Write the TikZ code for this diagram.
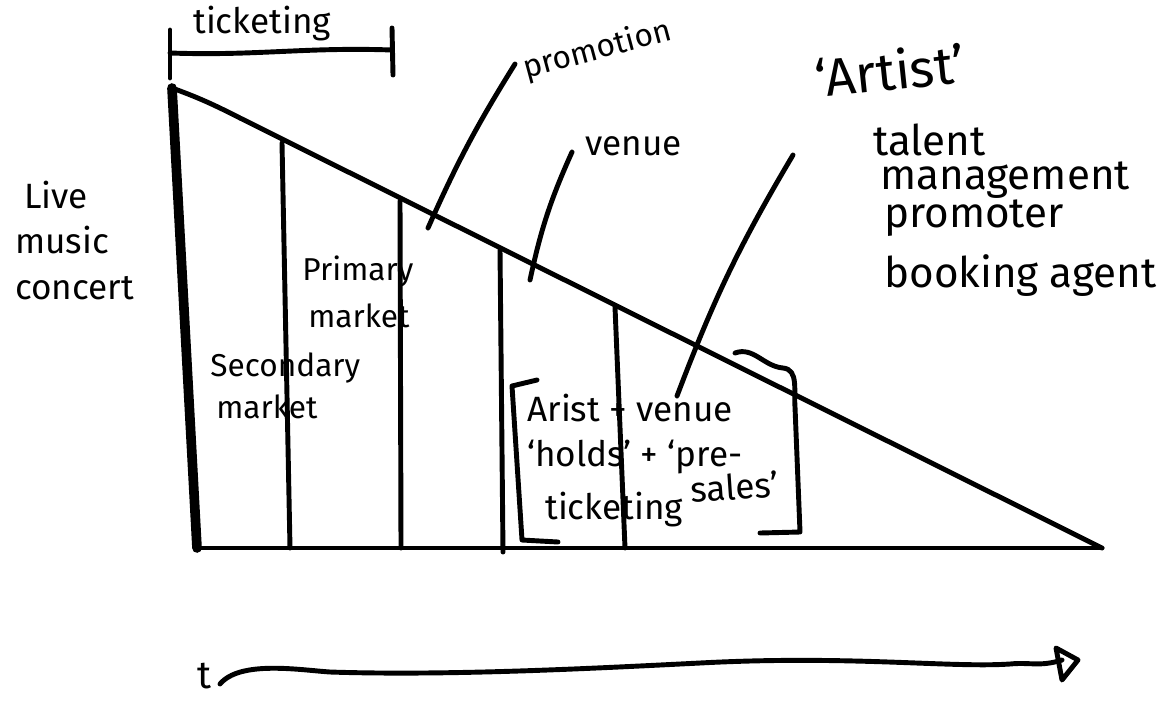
\documentclass[tikz,border=0pt]{standalone}
\usepackage{fontspec}
\setmainfont{Fira Sans}
\begin{document}
\begin{tikzpicture}[x=0.02cm,y=-0.02cm,
  ink/.style={line width=2.8pt, line cap=round, line join=round},
  heavy/.style={line width=5.5pt, line cap=round},
  lbl/.style={inner sep=0pt, anchor=west, font=\fontsize{20}{22}\selectfont},
  small/.style={lbl, font=\fontsize{18}{20}\selectfont},
  big/.style={lbl, font=\fontsize{24}{26}\selectfont},
  huge/.style={lbl, font=\fontsize{30}{32}\selectfont}]
\useasboundingbox (0,0) rectangle (1162,700);

% triangle: concert timeline shrinking to the show date
\coordinate (apex) at (172,88);
\coordinate (corner) at (197,548);
\coordinate (tip) at (1102,548);
\draw[heavy] (apex) -- (corner);
\draw[ink] (apex) to[out=-20,in=153] (240,118) -- (tip);
\draw[ink] (corner) -- (tip);

% stage dividers
\coordinate (d1t) at (282,143); \coordinate (d1b) at (290,548);
\coordinate (d2t) at (400,201); \coordinate (d2b) at (401,548);
\coordinate (d3t) at (500,250); \coordinate (d3b) at (503,552);
\coordinate (d4t) at (615,307); \coordinate (d4b) at (625,548);
\foreach \i in {1,...,4} \draw[ink] (d\i t) -- (d\i b);

% ticketing span bracket
\coordinate (tkL1) at (170,30); \coordinate (tkL2) at (170,78);
\coordinate (tkR1) at (392,28); \coordinate (tkR2) at (393,75);
\coordinate (tkM1) at (170,53); \coordinate (tkM2) at (392,50);
\draw[ink] (tkL1) -- (tkL2);
\draw[ink] (tkR1) -- (tkR2);
\draw[ink] (tkM1) to[out=-2,in=178] (tkM2);
\node[lbl] (ticketing) at (193,24) {ticketing};

% side labels
\node[lbl] (live) at (24,195) {Live};
\node[lbl] (music) at (15,240) {music};
\node[lbl] (concert) at (15,288) {concert};

\node[small] (primary) at (302,272) {Primary};
\node[small] (pmarket) at (308,316) {market};
\node[small] (secondary) at (210,368) {Secondary};
\node[small] (smarket) at (216,407) {market};

% stage names with leaders
\node[small, rotate=15] (promotion) at (524,70) {promotion};
\coordinate (promoPt) at (428,228);
\coordinate (promoEnd) at (515,64);
\draw[ink] (promoPt) to[bend left=4] (promoEnd);

\node[lbl] (venue) at (585,146) {venue};
\coordinate (venuePt) at (530,280);
\coordinate (venueEnd) at (572,152);
\draw[ink] (venuePt) to[bend left=6] (venueEnd);

\node[huge, rotate=6] (artist) at (815,78) {\textquoteleft Artist\textquoteright};
\node[big] (talent) at (873,140) {talent};
\node[big] (management) at (880,180) {management};
\node[big] (promoter) at (884,218) {promoter};
\node[big] (booking) at (884,276) {booking agent};

% holds and pre-sales block
\node[lbl] (holds1) at (527,408) {Arist + venue};
\node[lbl] (holds2) at (527,457) {\textquoteleft holds\textquoteright\ + \textquoteleft pre-};
\node[lbl] (holds3) at (545,510) {ticketing};
\node[lbl, rotate=4] (holds4) at (690,490) {sales\textquoteright};
\coordinate (holdsPt) at (677,396);
\coordinate (holdsEnd) at (793,155);
\draw[ink] (holdsPt) to[bend left=5] (holdsEnd);

\draw[ink] (537,380) -- (512,386) -- (522,540) -- (558,542);
\draw[ink] (735,353) to[out=20,in=175] (783,368) to[out=-5,in=95] (795,407) -- (800,532) -- (760,533);

% time axis
\node[lbl, font=\fontsize{22}{24}\selectfont] (t) at (197,676) {t};
\coordinate (tStart) at (220,684);
\coordinate (tEnd) at (1062,660);
\draw[ink] (tStart) .. controls (240,660) and (300,670) .. (330,672)
  .. controls (450,676) and (600,668) .. (700,663)
  .. controls (850,655) and (950,668) .. (1010,664)
  .. controls (1030,662) and (1040,667) .. (tEnd);
\draw[ink] (1056,648) -- (1078,660) -- (1062,680) -- cycle;
\end{tikzpicture}
\end{document}
